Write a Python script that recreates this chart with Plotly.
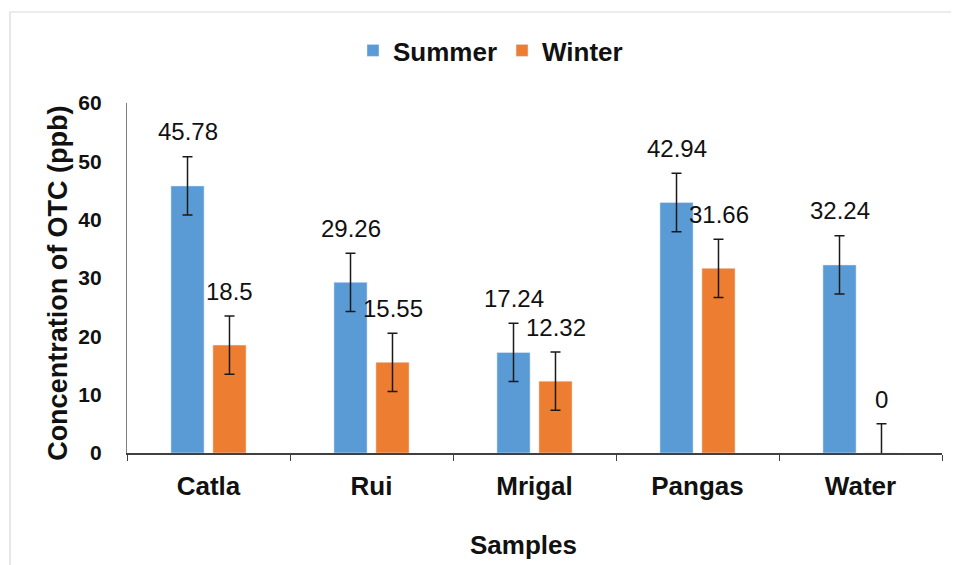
import plotly.graph_objects as go

categories = ["Catla", "Rui", "Mrigal", "Pangas", "Water"]
summer = [45.78, 29.26, 17.24, 42.94, 32.24]
winter = [18.5, 15.55, 12.32, 31.66, 0]
summer_err = [5, 5, 5, 5, 5]
winter_err = [5, 5, 5, 5, 5]
summer_labels = ["45.78", "29.26", "17.24", "42.94", "32.24"]
winter_labels = ["18.5", "15.55", "12.32", "31.66", "0"]
y_ticks = [0, 10, 20, 30, 40, 50, 60]

BLUE = "#5B9BD5"
ORANGE = "#ED7D31"
FONT = "Liberation Sans, Arial, sans-serif"
TXT = "#111111"

fig = go.Figure()
fig.add_trace(go.Bar(
    name="<b>Summer</b>", x=categories, y=summer, marker_color=BLUE,
    error_y=dict(type="data", array=summer_err, visible=True,
                 color="#1a1a1a", thickness=1.5, width=5),
))
fig.add_trace(go.Bar(
    name="<b>Winter</b>", x=categories, y=winter, marker_color=ORANGE,
    error_y=dict(type="data", array=winter_err, visible=True,
                 color="#1a1a1a", thickness=1.5, width=5),
))

annotations = []
for series, labels, shift in ((summer, summer_labels, -21), (winter, winter_labels, 21)):
    for cat, val, lab in zip(categories, series, labels):
        annotations.append(dict(
            x=cat, y=val, text=lab, showarrow=False, xref="x", yref="y",
            xshift=shift, yshift=54, yanchor="middle",
            font=dict(family=FONT, size=24, color=TXT),
        ))

# axis titles
annotations.append(dict(
    text="<b>Samples</b>", xref="paper", yref="paper", x=0.486, y=-0.263,
    showarrow=False, xanchor="center", yanchor="middle",
    font=dict(family=FONT, size=26, color=TXT),
))
annotations.append(dict(
    text="<b>Concentration of OTC (ppb)</b>", xref="paper", yref="paper",
    x=-0.0847, y=0.486, textangle=-90, showarrow=False,
    xanchor="center", yanchor="middle",
    font=dict(family=FONT, size=27, color=TXT),
))

fig.update_layout(
    width=951, height=557,
    margin=dict(l=119, r=17, t=95, b=112, autoexpand=False),
    paper_bgcolor="white", plot_bgcolor="white",
    barmode="group", bargap=0.485, bargroupgap=0.21,
    annotations=annotations,
    showlegend=True,
    legend=dict(
        orientation="h", x=0.446, xanchor="center", y=1.15, yanchor="middle",
        font=dict(family=FONT, size=26, color=TXT),
        bgcolor="rgba(0,0,0,0)", itemwidth=30, traceorder="normal",
    ),
    xaxis=dict(
        showline=True, linecolor="#404040", linewidth=1.5,
        ticks="outside", tickson="boundaries", ticklen=6, tickcolor="#404040",
        tickvals=categories, ticktext=[f"<b>{c}</b>" for c in categories],
        tickfont=dict(family=FONT, size=26, color=TXT),
        ticklabelstandoff=9,
        showgrid=False,
    ),
    yaxis=dict(
        range=[0, 60], tickvals=y_ticks, ticktext=[f"<b>{t}</b>" for t in y_ticks],
        showline=True, linecolor="#808080", linewidth=1.2,
        ticks="", showgrid=False, zeroline=False,
        tickfont=dict(family=FONT, size=21, color=TXT),
        ticklabelstandoff=20,
    ),
)

fig.add_shape(type="rect", xref="paper", yref="paper",
              x0=-0.1436, x1=1.1, y0=-0.5, y1=1.26,
              line=dict(color="#d9d9d9", width=1.2), fillcolor="rgba(0,0,0,0)",
              layer="below")

fig.write_html("out.html")
